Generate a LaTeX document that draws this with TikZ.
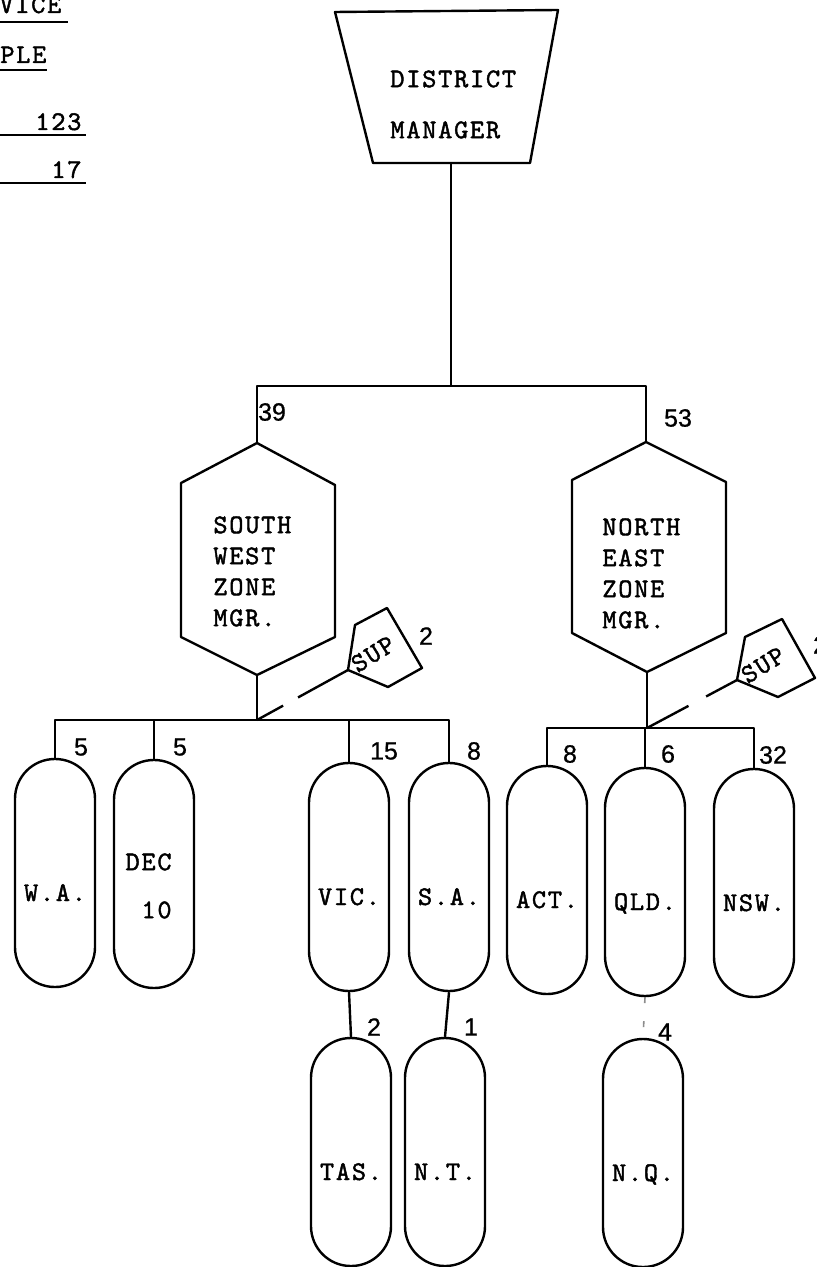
\documentclass[tikz,border=0pt]{standalone}
\usepackage{fontspec}
\newfontfamily\tw{lmmono10-regular.otf}[LetterSpace=6.5,FakeBold=1.6]
\newfontfamily\numf{Liberation Sans}[FakeBold=0.8]
\begin{document}
\begin{tikzpicture}[x=0.5pt,y=-0.5pt,
  ln/.style={line width=1.2pt, line join=round},
  twf/.style={font=\tw\fontsize{13.5pt}{15.5pt}\selectfont, inner sep=0pt},
  numl/.style={font=\numf\fontsize{12.5pt}{15pt}\selectfont, inner sep=0pt},
  capsule/.style={draw, line width=1.2pt, rounded corners=19.9pt, minimum width=40pt,
    minimum height=114pt, inner sep=0pt, twf, text height=28pt, text depth=0pt}]
\useasboundingbox (0,0) rectangle (817,1267);

% ---- top-left heading fragments ----
\node[twf, anchor=base west] (h1) at (-1,13) {VICE};
\node[twf, anchor=base west] (h2) at (0,63) {PLE};
\node[twf, anchor=base west] (h3) at (35,130) {123};
\node[twf, anchor=base west] (h4) at (51,178) {17};
\draw[line width=1pt] (0,22) -- (68,22);
\draw[line width=1pt] (0,70) -- (47,70);
\draw[line width=1pt] (0,135) -- (86,135);
\draw[line width=1pt] (0,183) -- (86,183);

% ---- district manager (trapezium) ----
\coordinate (dmtl) at (335,12);
\coordinate (dmtr) at (558,10);
\coordinate (dmbr) at (530,163);
\coordinate (dmbl) at (373,163);
\coordinate (dmbot) at (451,163);
\draw[ln] (dmtl) -- (dmtr) -- (dmbr) -- (dmbl) -- cycle;
\node[twf, anchor=north west, align=left, font=\tw\fontsize{13.5pt}{25.5pt}\selectfont] (dm) at (390,70) {DISTRICT\\MANAGER};

% ---- zone managers (hexagons) ----
\coordinate (swtop) at (257,443);
\coordinate (swul) at (181,483);
\coordinate (swur) at (335,485);
\coordinate (swll) at (181,637);
\coordinate (swlr) at (335,637);
\coordinate (swbot) at (257,675);
\draw[ln] (swtop) -- (swul) -- (swll) -- (swbot) -- (swlr) -- (swur) -- cycle;
\node[twf, anchor=north west, align=left] (sw) at (213,516) {SOUTH\\WEST\\ZONE\\MGR.};

\coordinate (netop) at (646,442);
\coordinate (neul) at (572,480);
\coordinate (neur) at (726,482);
\coordinate (nell) at (572,633);
\coordinate (nelr) at (726,633);
\coordinate (nebot) at (647,672);
\draw[ln] (netop) -- (neul) -- (nell) -- (nebot) -- (nelr) -- (neur) -- cycle;
\node[twf, anchor=north west, align=left] (ne) at (602,518) {NORTH\\EAST\\ZONE\\MGR.};

% ---- top connectors ----
\coordinate (topj) at (451,386);
\draw[ln] (dmbot) -- (topj);
\draw[ln] (swtop) -- (swtop |- topj) -- (netop |- topj) -- (netop);
\node[numl] (n39) at (272,412) {39};
\node[numl] (n53) at (678,418) {53};

% ---- SUP boxes ----
\coordinate (supa) at (348,670);
\coordinate (supb) at (355,625);
\coordinate (supc) at (387,608);
\coordinate (supd) at (422,668);
\coordinate (supe) at (388,687);
\draw[ln] (supa) -- (supb) -- (supc) -- (supd) -- (supe) -- cycle;
\node[twf, rotate=32] (sup1) at (373,654) {SUP};
\node[numl] (s1n) at (426,636) {2};

\coordinate (supf) at (737,680);
\coordinate (supg) at (745,637);
\coordinate (suph) at (782,619);
\coordinate (supi) at (815,678);
\coordinate (supj) at (778,697);
\draw[ln] (supf) -- (supg) -- (suph) -- (supi) -- (supj) -- cycle;
\node[twf, rotate=32] (sup2) at (763,665) {SUP};
\node[numl] (s2n) at (820,645) {2};

% ---- south west states ----
\node[capsule] (wa) at (55,873) {W.A.};
\node[capsule] (dec) at (154,874) {};
\node[twf, anchor=north east, align=right, font=\tw\fontsize{13.5pt}{24pt}\selectfont] (dect) at (172,853) {DEC\\10};
\node[capsule] (vic) at (349,877) {VIC.};
\node[capsule] (sa) at (449,877) {S.A.};
\node[capsule] (tas) at (351,1152) {TAS.};
\node[capsule] (nt) at (445,1152) {N.T.};

\coordinate (swj) at (257,720);
\draw[ln] (swbot) -- (swj);
\draw[ln] (wa.north) -- (wa.north |- swj) -- (sa.north |- swj) -- (sa.north);
\draw[ln] (dec.north) -- (dec.north |- swj);
\draw[ln] (vic.north) -- (vic.north |- swj);
\draw[ln, dash pattern=on 28.5pt off 8.5pt on 16pt off 30pt] (supa) -- (swj);
\draw[ln] (vic.south) -- (tas.north);
\draw[ln] (sa.south) -- (nt.north);

\node[numl] (l5a) at (81,747) {5};
\node[numl] (l5b) at (180,747) {5};
\node[numl] (l15) at (384,751) {15};
\node[numl] (l8a) at (474,751) {8};
\node[numl] (l2) at (374,1027) {2};
\node[numl] (l1) at (471,1027) {1};

% ---- north east states ----
\node[capsule] (act) at (547,880) {ACT.};
\node[capsule] (qld) at (645,882) {QLD.};
\node[capsule] (nsw) at (754,883) {NSW.};
\node[capsule] (nq) at (643,1153) {N.Q.};

\coordinate (nej) at (647,728);
\draw[ln] (nebot) -- (nej);
\draw[ln] (act.north) -- (act.north |- nej) -- (nsw.north |- nej) -- (nsw.north);
\draw[ln] (qld.north) -- (qld.north |- nej);
\draw[ln, dash pattern=on 17.5pt off 10pt on 24pt off 30pt] (supf) -- (nej);
\draw[line width=0.8pt, black!45, dash pattern=on 3pt off 9pt] (qld.south) -- (nq.north);

\node[numl] (l8b) at (570,754) {8};
\node[numl] (l6) at (668,754) {6};
\node[numl] (l32) at (773,755) {32};
\node[numl] (l4) at (665,1032) {4};
\end{tikzpicture}
\end{document}
